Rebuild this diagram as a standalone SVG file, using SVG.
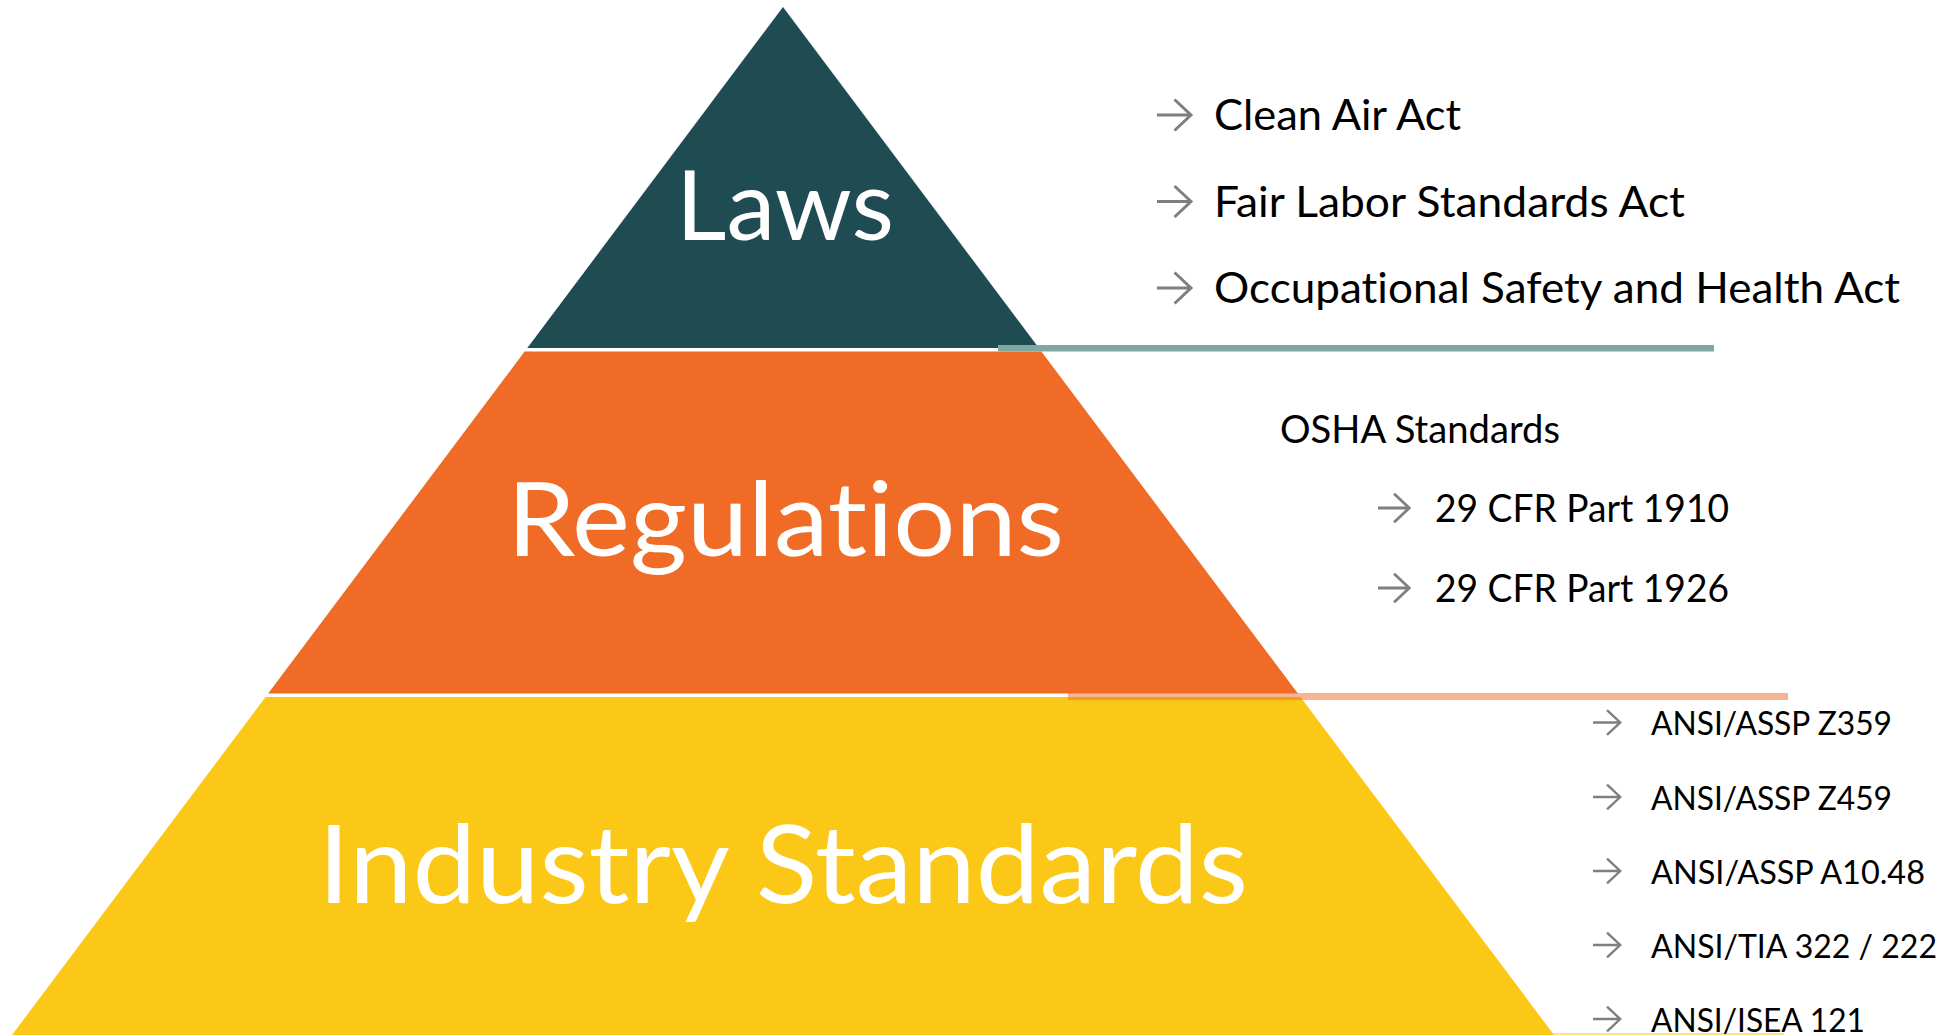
<svg xmlns="http://www.w3.org/2000/svg" xmlns:xlink="http://www.w3.org/1999/xlink" width="1946" height="1035" viewBox="0 0 1946 1035">
  <style>
    text { font-variant-ligatures: none; font-feature-settings: "liga" 0, "clig" 0; }
    .tier-label { font-family: Lato, "Open Sans", "Liberation Sans", sans-serif; fill: #FFFFFF; }
    .item { font-family: Lato, "Open Sans", "Liberation Sans", sans-serif; fill: #000000; }
    .big { font-size: 43px; }
    .mid { font-size: 38px; }
    .small { font-size: 33px; }
    .bullet { fill: none; stroke: #7F7F7F; stroke-width: 3; stroke-linecap: butt; stroke-linejoin: miter; }
  </style>
  <defs>
    <path id="arrow" class="bullet" d="M0,0 H34 M17.5,-15.5 L34,0 L17.5,15.5"/>
  </defs>
  <rect x="0" y="0" width="1946" height="1035" fill="#FFFFFF"/>

  <g id="tier-laws">
    <polygon points="783,7 527.3,348 1038.8,348" fill="#1F4B52"/>
    <text class="tier-label" x="676" y="240" font-size="96" textLength="218" lengthAdjust="spacingAndGlyphs">Laws</text>
  </g>

  <g id="tier-regulations">
    <polygon points="524.6,351.5 1041.4,351.5 1297.9,693.5 268.1,693.5" fill="#F06C26"/>
    <text class="tier-label" x="507" y="555.5" font-size="103" textLength="557" lengthAdjust="spacingAndGlyphs">Regulations</text>
  </g>

  <g id="tier-industry-standards">
    <polygon points="265.5,697 1300.5,697 1557.8,1040 8.2,1040" fill="#FCC817"/>
    <text class="tier-label" x="318" y="902.5" font-size="108" textLength="930" lengthAdjust="spacingAndGlyphs">Industry Standards</text>
  </g>

  <g id="dividers">
    <rect x="998" y="345" width="716" height="6.5" fill="#80A8A3"/>
    <rect x="1068" y="693" width="720" height="7" fill="#F06C26" fill-opacity="0.5"/>
    <rect x="1068" y="1033" width="716" height="6" fill="#FCC817" fill-opacity="0.5"/>
  </g>

  <g id="laws-list">
    <use xlink:href="#arrow" href="#arrow" transform="translate(1157,115)"/>
    <text class="item big" x="1214" y="130" textLength="247" lengthAdjust="spacingAndGlyphs">Clean Air Act</text>
    <use xlink:href="#arrow" href="#arrow" transform="translate(1157,201.5)"/>
    <text class="item big" x="1214" y="216.5" textLength="471" lengthAdjust="spacingAndGlyphs">Fair Labor Standards Act</text>
    <use xlink:href="#arrow" href="#arrow" transform="translate(1157,288)"/>
    <text class="item big" x="1214" y="303" textLength="686" lengthAdjust="spacingAndGlyphs">Occupational Safety and Health Act</text>
  </g>

  <g id="regulations-list">
    <text class="item mid" x="1280" y="442.5" textLength="280" lengthAdjust="spacingAndGlyphs">OSHA Standards</text>
    <use xlink:href="#arrow" href="#arrow" transform="translate(1378,508) scale(0.92)"/>
    <text class="item mid" x="1435" y="521.5" textLength="294" lengthAdjust="spacingAndGlyphs">29 CFR Part 1910</text>
    <use xlink:href="#arrow" href="#arrow" transform="translate(1378,588) scale(0.92)"/>
    <text class="item mid" x="1435" y="601.5" textLength="294" lengthAdjust="spacingAndGlyphs">29 CFR Part 1926</text>
  </g>

  <g id="standards-list">
    <use xlink:href="#arrow" href="#arrow" transform="translate(1593,722.5) scale(0.8)"/>
    <text class="item small" x="1651" y="735" textLength="241" lengthAdjust="spacingAndGlyphs">ANSI/ASSP Z359</text>
    <use xlink:href="#arrow" href="#arrow" transform="translate(1593,797) scale(0.8)"/>
    <text class="item small" x="1651" y="809.5" textLength="241" lengthAdjust="spacingAndGlyphs">ANSI/ASSP Z459</text>
    <use xlink:href="#arrow" href="#arrow" transform="translate(1593,871) scale(0.8)"/>
    <text class="item small" x="1651" y="883.5" textLength="274" lengthAdjust="spacingAndGlyphs">ANSI/ASSP A10.48</text>
    <use xlink:href="#arrow" href="#arrow" transform="translate(1593,945) scale(0.8)"/>
    <text class="item small" x="1651" y="957.5" textLength="286" lengthAdjust="spacingAndGlyphs">ANSI/TIA 322 / 222</text>
    <use xlink:href="#arrow" href="#arrow" transform="translate(1593,1019) scale(0.8)"/>
    <text class="item small" x="1651" y="1031.5" textLength="214" lengthAdjust="spacingAndGlyphs">ANSI/ISEA 121</text>
  </g>
</svg>
